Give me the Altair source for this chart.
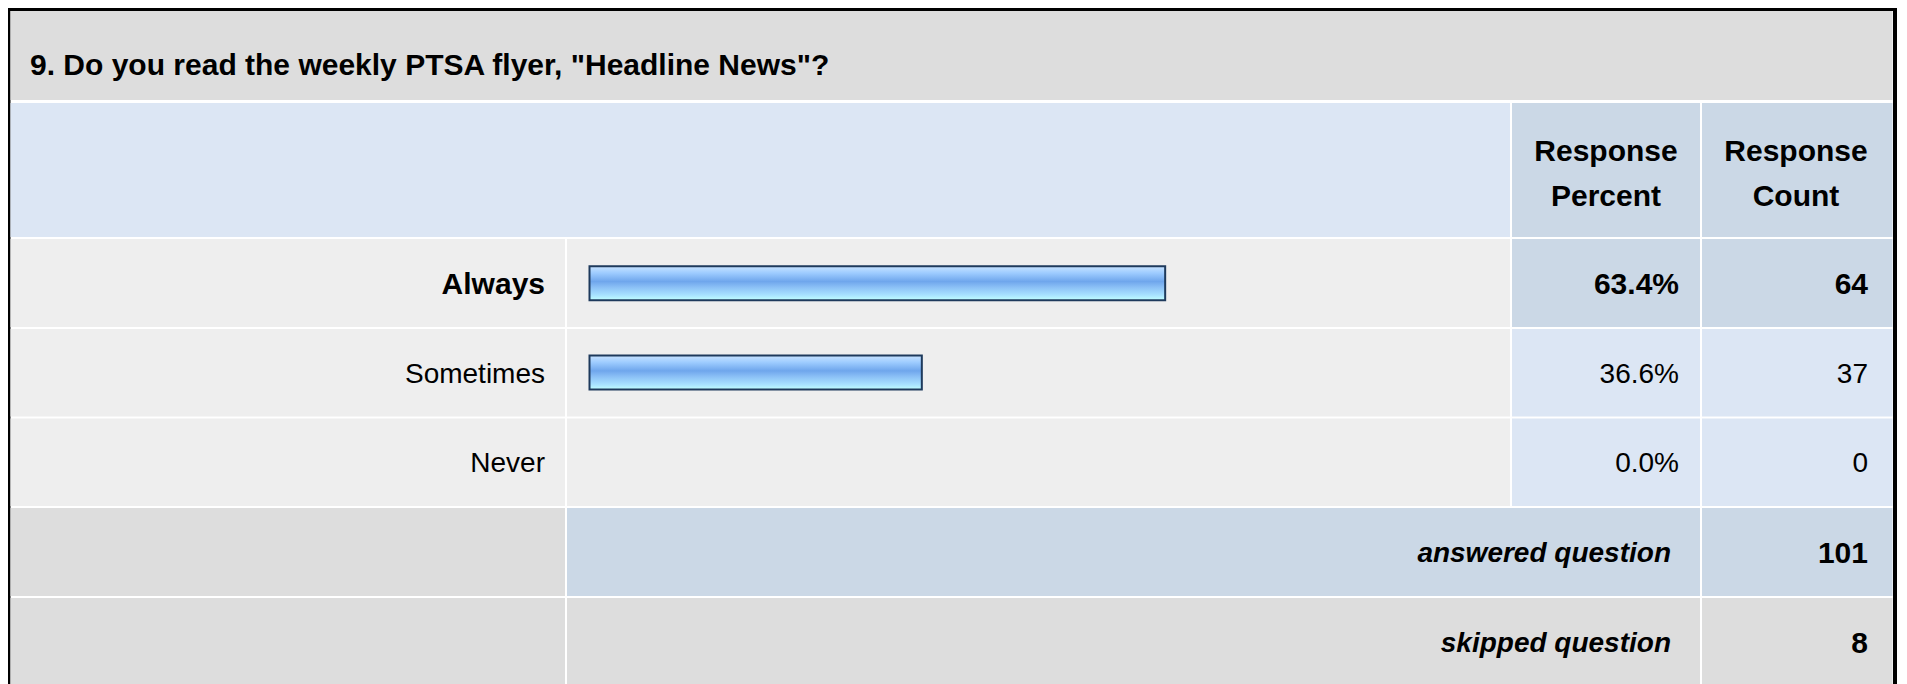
import altair as alt
import pandas as pd

# ---------------- data ----------------
question_no = "9."
question = 'Do you read the weekly PTSA flyer, "Headline News"?'
categories = ["Always", "Sometimes", "Never"]
percents = [63.4, 36.6, 0.0]
counts = [64, 37, 0]
summary_labels = ["answered question", "skipped question"]
summary_values = [101, 8]
header_pct = ["Response", "Percent"]
header_cnt = ["Response", "Count"]

# ---------------- style / layout ----------------
FONT = "Liberation Sans, Arial, Helvetica, sans-serif"
FS = 28          # regular / italic text
FS_B = 30        # bold text
OFF = 8          # page margin
W, H = 1891, 676

GRAY = "#DDDDDD"
ROW = "#EEEEEE"
BLUE_LIGHT = "#DCE6F4"
BLUE = "#CBD8E6"
BORDER = "#000000"


def px(v):
    return v - OFF


cols = {"label": (10.5, 565), "bar": (567, 1510), "pct": (1512, 1700), "cnt": (1702, 1892.5)}
row_edges = [(239, 327), (329, 416.5), (418.5, 506)]
ans_edge = (508, 596)
skip_edge = (598, 700)

max_count = max(counts)
cells = []


def cell(x0, x1, y0, y1, fill):
    cells.append({"x0": px(x0), "x1": px(x1), "y0": px(y0), "y1": px(y1), "fill": fill})


# outer border
cell(8, 10.5, 8, 700, BORDER)
cell(8, 1897, 8, 11, BORDER)
cell(1893, 1897, 8, 700, BORDER)
# title band
cell(10.5, 1892.5, 11, 100, GRAY)
# header
cell(10.5, 1510, 103, 237, BLUE_LIGHT)
cell(*cols["pct"], 103, 237, BLUE)
cell(*cols["cnt"], 103, 237, BLUE)
# answer rows
for (y0, y1), c in zip(row_edges, counts):
    hi = BLUE if c == max_count else BLUE_LIGHT
    cell(*cols["label"], y0, y1, ROW)
    cell(*cols["bar"], y0, y1, ROW)
    cell(*cols["pct"], y0, y1, hi)
    cell(*cols["cnt"], y0, y1, hi)
# summary rows
cell(*cols["label"], *ans_edge, GRAY)
cell(cols["bar"][0], cols["pct"][1], *ans_edge, BLUE)
cell(*cols["cnt"], *ans_edge, BLUE)
cell(*cols["label"], *skip_edge, GRAY)
cell(cols["bar"][0], cols["pct"][1], *skip_edge, GRAY)
cell(*cols["cnt"], *skip_edge, GRAY)

cells_df = pd.DataFrame(cells)

df = pd.DataFrame({"cat": categories, "pct": percents, "count": counts})
sum_df = pd.DataFrame({"label": summary_labels, "value": summary_values})

# scales
band_h = 34
rows_top, rows_bot = px(238.5), px(506.5)
step = (rows_bot - rows_top) / len(categories)
p_in = 1 - band_h / step
y_rows = alt.Scale(domain=categories, range=[rows_top, rows_bot],
                   paddingInner=p_in, paddingOuter=p_in / 2)
x_bar = alt.Scale(domain=[0, 100], range=[px(589.5), px(1497.5)])
y_sum = alt.Scale(domain=summary_labels, range=[px(507), px(687)],
                  paddingInner=0, paddingOuter=0)

gradient = alt.Gradient(
    gradient="linear", x1=0, x2=0, y1=0, y2=1,
    stops=[
        alt.GradientStop(color="#C8E3FF", offset=0),
        alt.GradientStop(color="#9ECCFF", offset=0.2),
        alt.GradientStop(color="#6FA6EC", offset=0.45),
        alt.GradientStop(color="#8BC0F6", offset=0.62),
        alt.GradientStop(color="#A8E2FF", offset=0.85),
        alt.GradientStop(color="#C0FFFF", offset=1),
    ],
)

text_base = dict(font=FONT, color="black", baseline="alphabetic")

cells_layer = alt.Chart(cells_df).mark_rect().encode(
    x=alt.X("x0:Q", scale=None, axis=None),
    x2="x1:Q",
    y=alt.Y("y0:Q", scale=None, axis=None),
    y2="y1:Q",
    color=alt.Color("fill:N", scale=None, legend=None),
)

title_layer = alt.Chart(pd.DataFrame({"t": [f"{question_no} {question}"]})).mark_text(
    align="left", fontWeight="bold", fontSize=FS_B, **text_base
).encode(x=alt.value(px(30)), y=alt.value(px(75)), text="t:N")

hdr_pct = alt.Chart(pd.DataFrame({"a": [0]})).mark_text(
    align="center", fontWeight="bold", fontSize=FS_B, lineHeight=45, **text_base
).encode(x=alt.value(px(1606)), y=alt.value(px(161)), text=alt.value(header_pct))

hdr_cnt = alt.Chart(pd.DataFrame({"a": [0]})).mark_text(
    align="center", fontWeight="bold", fontSize=FS_B, lineHeight=45, **text_base
).encode(x=alt.value(px(1796)), y=alt.value(px(161)), text=alt.value(header_cnt))

base = alt.Chart(df).transform_joinaggregate(mx="max(count)").transform_calculate(
    pl="format(datum.pct, '.1f') + '%'", is_max="datum.count == datum.mx"
)

bars = alt.Chart(df).transform_filter("datum.pct > 0").mark_bar(
    fill=gradient, stroke="#1E3A5C", strokeWidth=2
).encode(
    x=alt.X("pct:Q", scale=x_bar, axis=None),
    y=alt.Y("cat:N", scale=y_rows, axis=None),
)


def row_text(field, xpos, bold):
    flt = "datum.is_max" if bold else "!datum.is_max"
    return base.transform_filter(flt).mark_text(
        align="right", dy=10.5 if bold else 10,
        fontWeight="bold" if bold else "normal",
        fontSize=FS_B if bold else FS, **text_base
    ).encode(
        x=alt.value(px(xpos)),
        y=alt.Y("cat:N", scale=y_rows, axis=None),
        text=alt.Text(field),
    )


row_layers = []
for bold in (True, False):
    row_layers.append(row_text("cat:N", 545, bold))
    row_layers.append(row_text("pl:N", 1679, bold))
    row_layers.append(row_text("count:Q", 1868, bold))

sum_label = alt.Chart(sum_df).mark_text(
    align="right", dy=10, fontWeight="bold", fontStyle="italic", fontSize=FS, **text_base
).encode(x=alt.value(px(1671)), y=alt.Y("label:N", scale=y_sum, axis=None), text="label:N")

sum_value = alt.Chart(sum_df).mark_text(
    align="right", dy=10.5, fontWeight="bold", fontSize=FS_B, **text_base
).encode(x=alt.value(px(1868)), y=alt.Y("label:N", scale=y_sum, axis=None), text="value:Q")

chart = alt.layer(
    cells_layer, title_layer, hdr_pct, hdr_cnt, bars, *row_layers, sum_label, sum_value
).resolve_scale(x="independent", y="independent").properties(
    width=W, height=H, padding=0, autosize=alt.AutoSizeParams(type="none")
).configure_view(stroke=None)

chart.save("out.html", embed_options={"renderer": "svg", "actions": False})
